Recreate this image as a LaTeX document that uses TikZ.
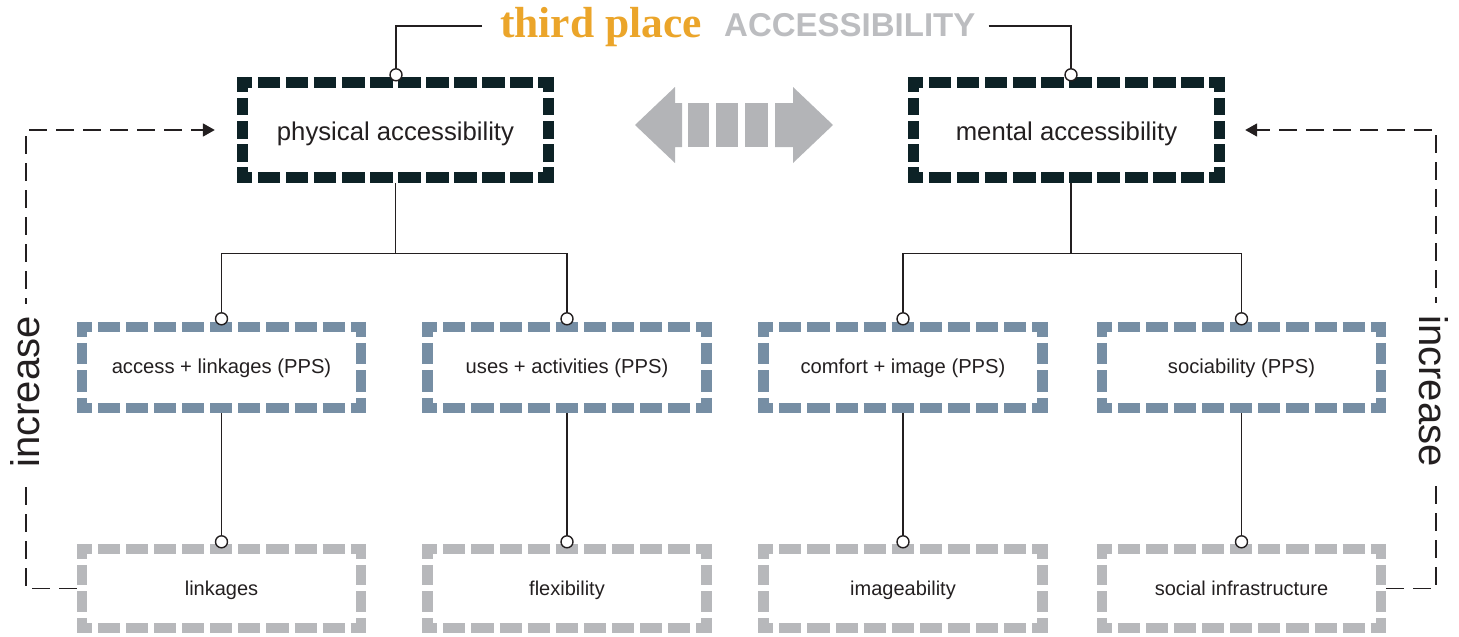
\documentclass[tikz,border=0pt]{standalone}
\usepackage{fontspec}
\setmainfont{Liberation Sans}
\newfontfamily\placefont{Liberation Serif}
\usepackage{xcolor}
\usetikzlibrary{arrows.meta}
\definecolor{ink}{HTML}{231F20}
\definecolor{boxdark}{HTML}{0D2226}
\definecolor{boxblue}{HTML}{768EA4}
\definecolor{boxgrey}{HTML}{B7B8BB}
\definecolor{arrowgrey}{HTML}{B3B4B7}
\definecolor{placeorange}{HTML}{EBA52A}
\definecolor{accgrey}{HTML}{BCBDC0}
\tikzset{accbox/.style={rectangle,inner sep=0,text=ink,text depth=0pt},
    toplevel/.style={accbox,minimum width=317pt,minimum height=106pt,text height=21pt,
        font=\fontsize{25.7}{30}\selectfont},
    ppslevel/.style={accbox,minimum width=289pt,minimum height=91pt,text height=12pt,
        font=\fontsize{20.2}{24}\selectfont},
    keylevel/.style={accbox,minimum width=289pt,minimum height=89pt,text height=13pt,
        font=\fontsize{20}{24}\selectfont},
    hA/.style={draw=boxdark,line width=11.5pt,dash pattern=on 22.55pt off 5.5pt,dash phase=7.05pt},
    vA/.style={draw=boxdark,line width=11.5pt,dash pattern=on 17.67pt off 5.5pt,dash phase=2.17pt},
    hB/.style={draw=boxblue,line width=10.5pt,dash pattern=on 22.1pt off 6pt,dash phase=7.1pt},
    vB/.style={draw=boxblue,line width=10.5pt,dash pattern=on 21.5pt off 6pt,dash phase=6.5pt},
    hC/.style={draw=boxgrey,line width=10.5pt,dash pattern=on 22.1pt off 6pt,dash phase=7.1pt},
    vC/.style={draw=boxgrey,line width=10.5pt,dash pattern=on 20.5pt off 6pt,dash phase=5.5pt},
    link/.style={draw=ink,line width=1.4pt},
    joint/.style={circle,draw=ink,fill=white,line width=1.4pt,minimum size=12pt,inner sep=0},
    feedback/.style={draw=ink,line width=1.8pt,dash pattern=on 18pt off 9pt,
        -{Triangle[length=12pt,width=13pt]}},
    increase/.style={fill=white,inner xsep=12pt,inner ysep=0,text=ink,
        font=\fontsize{40}{40}\selectfont}}
% dashed frame with L-shaped corners: node, top/bottom style, side style, half line width
\newcommand\dashframe[4]{%
    \draw[#2] ([yshift=-#4]#1.north west) -- ([yshift=-#4]#1.north east);
    \draw[#2] ([yshift=#4]#1.south west) -- ([yshift=#4]#1.south east);
    \draw[#3] ([xshift=#4]#1.north west) -- ([xshift=#4]#1.south west);
    \draw[#3] ([xshift=-#4]#1.north east) -- ([xshift=-#4]#1.south east);}
\begin{document}
\begin{tikzpicture}[x=1pt,y=-1pt]
            \useasboundingbox (0,0) rectangle (1459,637);
            % title
            \node[anchor=base west,inner sep=0,text=placeorange,
                font=\placefont\bfseries\fontsize{43.5}{43}\selectfont] (place) at (500,37) {third place};
            \node[anchor=base west,inner sep=0,text=accgrey,
                font=\bfseries\fontsize{33}{33}\selectfont] (acc) at (724,36) {ACCESSIBILITY};
            \coordinate (tl) at ([xshift=-18pt,yshift=11pt]place.base west);
            \coordinate (tr) at ([xshift=13pt,yshift=10pt]acc.base east);
            % boxes
            \node[toplevel] (physical) at (395.5,130) {physical accessibility};
            \node[toplevel] (mental) at (1066.5,130) {mental accessibility};
            \node[ppslevel] (access) at (221.5,367.5) {access + linkages (PPS)};
            \node[ppslevel] (uses) at (567,367.5) {uses + activities (PPS)};
            \node[ppslevel] (comfort) at (903,367.5) {comfort + image (PPS)};
            \node[ppslevel] (sociab) at (1241.5,367.5) {sociability (PPS)};
            \node[keylevel] (linkages) at (221.5,588.5) {linkages};
            \node[keylevel] (flex) at (567,588.5) {flexibility};
            \node[keylevel] (image) at (903,588.5) {imageability};
            \node[keylevel] (socinf) at (1241.5,588.5) {social infrastructure};
            % connectors
            \draw[link] (tl) -| ([xshift=0.5pt]physical.north);
            \draw[link] (tr) -| ([xshift=4.5pt]mental.north);
            \draw[link] (physical.south) -- ++(0,70) -| (access.north);
            \draw[link] (physical.south) -- ++(0,70) -| (uses.north);
            \draw[link] ([xshift=4.5pt]mental.south) -- ++(0,70) -| (comfort.north);
            \draw[link] ([xshift=4.5pt]mental.south) -- ++(0,70) -| (sociab.north);
            \draw[link] (access.south) -- (linkages.north);
            \draw[link] (uses.south) -- (flex.north);
            \draw[link] (comfort.south) -- (image.north);
            \draw[link] (sociab.south) -- (socinf.north);
            % frames
            \dashframe{physical}{hA}{vA}{5.75pt}
            \dashframe{mental}{hA}{vA}{5.75pt}
            \dashframe{access}{hB}{vB}{5.25pt}
            \dashframe{uses}{hB}{vB}{5.25pt}
            \dashframe{comfort}{hB}{vB}{5.25pt}
            \dashframe{sociab}{hB}{vB}{5.25pt}
            \dashframe{linkages}{hC}{vC}{5.25pt}
            \dashframe{flex}{hC}{vC}{5.25pt}
            \dashframe{image}{hC}{vC}{5.25pt}
            \dashframe{socinf}{hC}{vC}{5.25pt}
            \node[joint] at ([xshift=0.5pt,yshift=2pt]physical.north) {};
            \node[joint] at ([xshift=4.5pt,yshift=2pt]mental.north) {};
            \node[joint] at ([yshift=3pt]access.north) {};
            \node[joint] at ([yshift=3pt]uses.north) {};
            \node[joint] at ([yshift=3pt]comfort.north) {};
            \node[joint] at ([yshift=3pt]sociab.north) {};
            \node[joint] at ([yshift=2pt]linkages.north) {};
            \node[joint] at ([yshift=2pt]flex.north) {};
            \node[joint] at ([yshift=2pt]image.north) {};
            \node[joint] at ([yshift=2pt]socinf.north) {};
            % double arrow between the two sides
            \fill[arrowgrey] (635,125) -- (675,87) -- (675,103) -- (682,103) -- (682,147)
                -- (675,147) -- (675,163) -- cycle;
            \fill[arrowgrey] (688,103) rectangle (709,147);
            \fill[arrowgrey] (716,103) rectangle (738,147);
            \fill[arrowgrey] (745,103) rectangle (768,147);
            \fill[arrowgrey] (833,125) -- (793,87) -- (793,103) -- (775,103) -- (775,147)
                -- (793,147) -- (793,163) -- cycle;
            % increase loops
            \draw[feedback] (linkages.west) -- ++(-51,0) |- ([xshift=-22pt]physical.west);
            \draw[feedback] (socinf.east) -- ++(50,0) |- ([xshift=20pt]mental.east);
            \node[increase,rotate=90] (incleft) at (25,392) {increase};
            \node[increase,rotate=-90] (incright) at (1434,391) {increase};
        \end{tikzpicture}
\end{document}
